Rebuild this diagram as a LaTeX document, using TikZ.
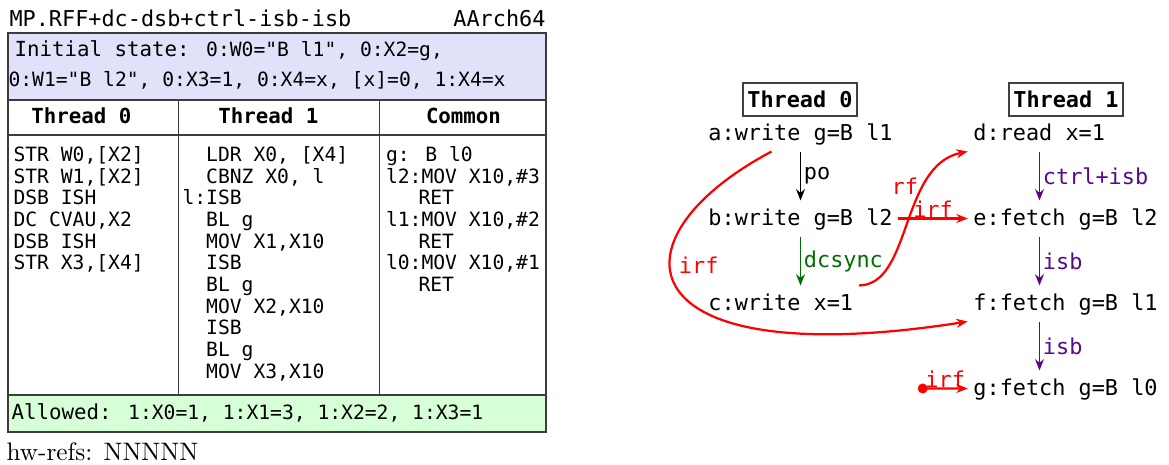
\documentclass[tikz,border=0pt]{standalone}
\usepackage{fontspec}
\usetikzlibrary{arrows.meta,calc}
\newfontfamily\codefont{DejaVu Sans Mono}
\newcommand\titlesz{\fontsize{8.3}{10}\selectfont}
\newcommand\labelsz{\fontsize{7.89}{9.5}\selectfont}
\newcommand\codesz{\fontsize{7.47}{9}\selectfont}
\definecolor{initblue}{RGB}{225,225,250}
\definecolor{allowgreen}{RGB}{215,255,215}
\definecolor{rfred}{RGB}{255,0,0}
\definecolor{dcgreen}{RGB}{0,110,0}
\definecolor{isbpurple}{RGB}{85,10,140}
\definecolor{framegray}{RGB}{60,60,60}
\tikzset{
  frame/.style={draw=framegray, line width=0.5pt},
  codeline/.style={anchor=base west, inner sep=0pt, font=\codefont\codesz},
  headcell/.style={anchor=base, inner sep=0pt, font=\codefont\labelsz\bfseries},
  gnode/.style={anchor=base west, inner xsep=2pt, inner ysep=0pt, text height=9.5pt, text depth=3.8pt, font=\codefont\titlesz},
  threadbox/.style={draw=black!75, line width=0.45pt, inner sep=0pt, minimum width=43.3pt, minimum height=12.5pt, font=\codefont\titlesz\bfseries},
  elbl/.style={inner sep=0pt, font=\codefont\titlesz},
  tip/.style={-{Stealth[length=4.3pt,width=3.4pt]}},
  poarrow/.style={tip, line width=0.65pt, draw=black},
  dcarrow/.style={tip, line width=0.65pt, draw=dcgreen},
  isbarrow/.style={tip, line width=0.65pt, draw=isbpurple},
  redarrow/.style={tip, line width=0.85pt, draw=rfred},
}
\begin{document}
\begin{tikzpicture}[x=0.38pt, y=-0.38pt]
\useasboundingbox (0,0) rectangle (1169,465);

% ---------- litmus test table ----------
\node[codeline, font=\codefont\titlesz] (title) at (9,27) {MP.RFF+dc-dsb+ctrl-isb-isb};
\node[codeline, anchor=base east, font=\codefont\titlesz] (arch) at (546,27) {AArch64};

\fill[initblue] (8,33) rectangle (546,100);
\fill[allowgreen] (8,395) rectangle (546,432);
\draw[frame] (8,33) rectangle (546,432);
\draw[frame] (8,100) -- (546,100);
\draw[frame] (8,135) -- (546,135);
\draw[frame] (8,395) -- (546,395);
\draw[frame] (178.6,100) -- (178.6,395);
\draw[frame] (379.6,100) -- (379.6,395);

\node[codeline] (init1) at (14,57) {{\labelsz Initial state: }{\codesz 0:W0="B l1", 0:X2=g,}};
\node[codeline] (init2) at (8,87) {0:W1="B l2", 0:X3=1, 0:X4=x, [x]=0, 1:X4=x};

\node[headcell] (h0) at (81.5,124) {Thread 0};
\node[headcell] (h1) at (268.5,124) {Thread 1};
\node[headcell] (h2) at (463.5,124) {Common};

\foreach \t [count=\i from 0] in {{STR W0,[X2]},{STR W1,[X2]},{DSB ISH},{DC CVAU,X2},{DSB ISH},{STR X3,[X4]}}
  \node[codeline] (p0l\i) at (13,{161.4+21.7*\i}) {\t};

\foreach \xx/\t [count=\i from 0] in {205.7/{LDR X0, [X4]},205.7/{CBNZ X0, l},182/{l:ISB},205.7/{BL g},205.7/{MOV X1,X10},205.7/{ISB},205.7/{BL g},205.7/{MOV X2,X10},205.7/{ISB},205.7/{BL g},205.7/{MOV X3,X10}}
  \node[codeline] (p1l\i) at (\xx,{161.4+21.7*\i}) {\t};

\foreach \xx/\t [count=\i from 0] in {385.5/{g: B l0},385.5/{l2:MOV X10,\#3},418/{RET},385.5/{l1:MOV X10,\#2},418/{RET},385.5/{l0:MOV X10,\#1},418/{RET}}
  \node[codeline] (cml\i) at (\xx,{161.4+21.7*\i}) {\t};

\node[codeline] (allowed) at (11,420) {{\labelsz Allowed: }{\codesz 1:X0=1, 1:X1=3, 1:X2=2, 1:X3=1}};

\node[anchor=base west, inner sep=0pt, font=\fontsize{9.6}{11}\selectfont] (hw) at (6,461) {hw-refs: NNNNN};

% ---------- execution graph ----------
\node[threadbox] (t0) at (800,99.5) {Thread 0};
\node[threadbox] (t1) at (1066,99.5) {Thread 1};

\node[gnode] (a) at (702.7,141) {a:write g=B l1};
\node[gnode] (b) at (702.7,226) {b:write g=B l2};
\node[gnode] (c) at (702.7,311) {c:write x=1};
\node[gnode] (d) at (967.7,141) {d:read x=1};
\node[gnode] (e) at (967.7,226) {e:fetch g=B l2};
\node[gnode] (f) at (967.7,311) {f:fetch g=B l1};
\node[gnode] (g) at (967.7,396) {g:fetch g=B l0};

\coordinate (col0) at (800.5,0);
\coordinate (col1) at (1039.5,0);

\draw[poarrow] (a.south -| col0) -- (b.north -| col0)
  node[midway, anchor=west, elbl, xshift=1pt] {po};
\draw[dcarrow] (b.south -| col0) -- (c.north -| col0)
  node[midway, anchor=west, elbl, xshift=1pt, text=dcgreen] {dcsync};
\draw[isbarrow] (d.south -| col1) -- (e.north -| col1)
  node[midway, anchor=west, elbl, xshift=1pt, text=isbpurple] {ctrl+isb};
\draw[isbarrow] (e.south -| col1) -- (f.north -| col1)
  node[midway, anchor=west, elbl, xshift=1pt, text=isbpurple] {isb};
\draw[isbarrow] (f.south -| col1) -- (g.north -| col1)
  node[midway, anchor=west, elbl, xshift=1pt, text=isbpurple] {isb};

\draw[redarrow] (c.north east) .. controls (912,285) and (900,165) .. (d.south west)
  node[pos=0.7, anchor=east, elbl, xshift=-2pt, text=rfred] {rf};
\draw[redarrow] (b.east) -- (e.west)
  node[midway, anchor=south, elbl, text=rfred] {irf};
\draw[redarrow] ($(a.south)+(-29,0)$) .. controls (605,240) and (625,375) .. (f.south west)
  node[pos=0.4, anchor=west, elbl, xshift=3pt, text=rfred] {irf};

\coordinate (gdot) at (922.7,388.5);
\fill[rfred] (gdot) circle (1.9pt);
\draw[redarrow] (gdot) -- (g.west)
  node[midway, anchor=south, elbl, text=rfred] {irf};
\end{tikzpicture}
\end{document}
